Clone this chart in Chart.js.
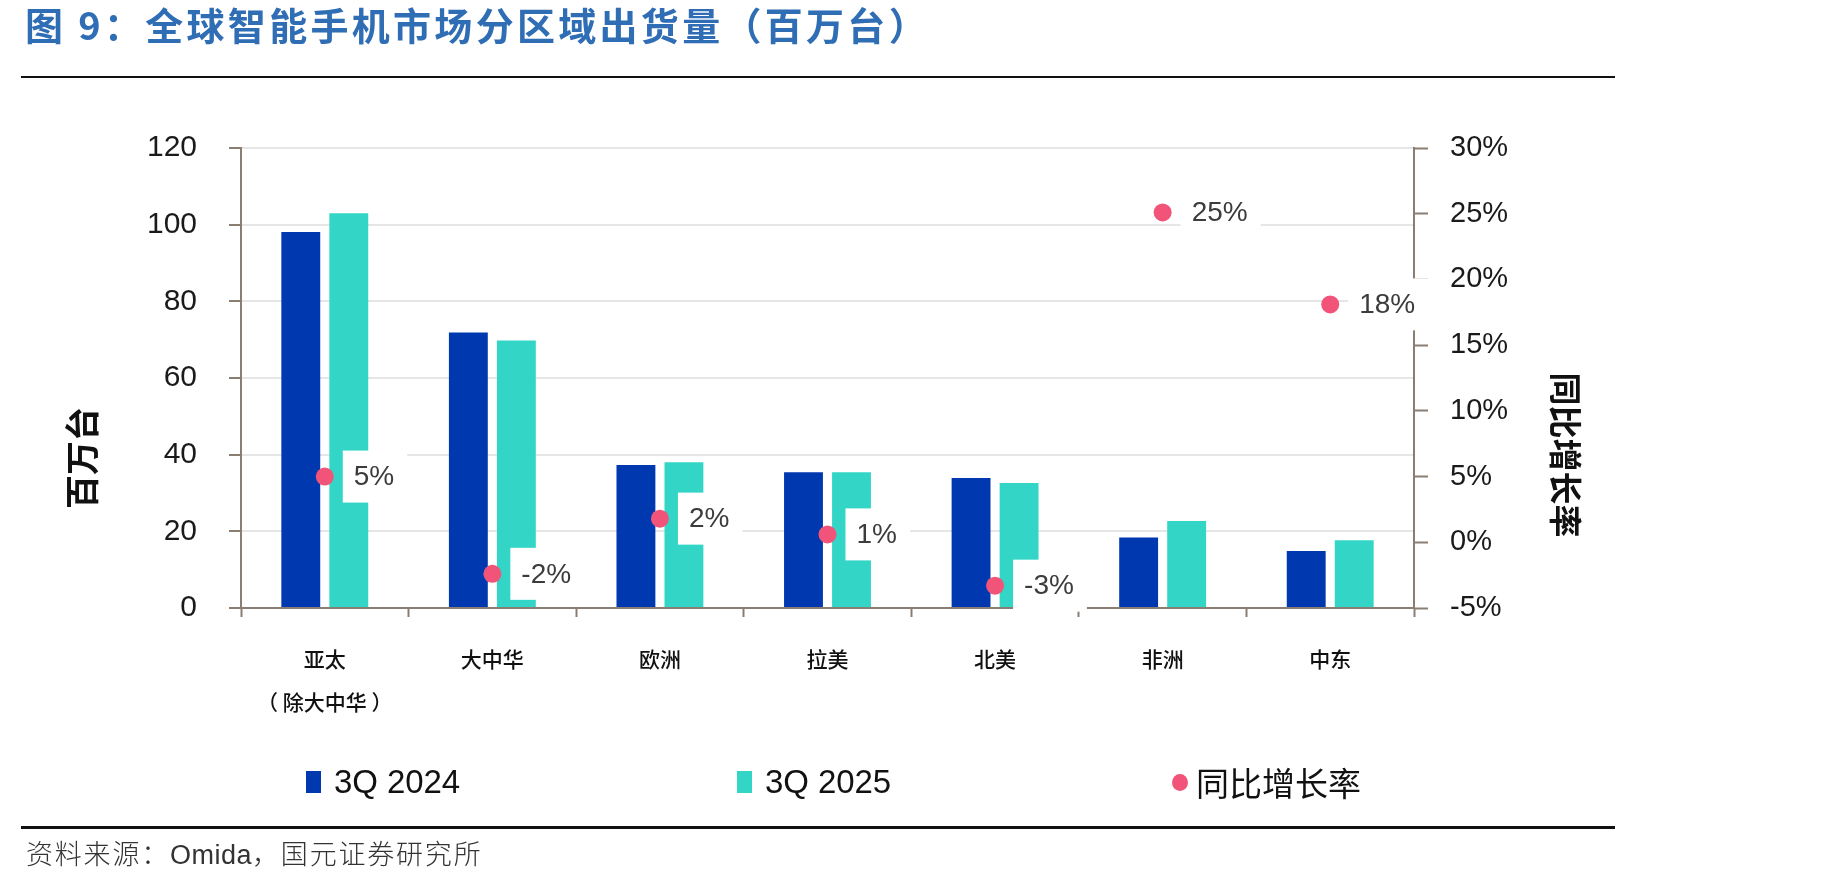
<!DOCTYPE html>
<html><head><meta charset="utf-8">
<script src="https://cdn.jsdelivr.net/npm/chart.js@4/dist/chart.umd.min.js"></script>
<style>
html,body{margin:0;padding:0;background:#fff;}
#wrap{position:relative;width:1830px;height:882px;overflow:hidden;background:#fff;}
#c{position:absolute;left:0;top:0;}
.title{position:absolute;left:25px;top:0px;font-family:"Noto Sans CJK SC";font-weight:700;font-size:38px;letter-spacing:3.3px;color:#2F6DB5;line-height:48px;white-space:nowrap;}
.rule{position:absolute;left:21px;width:1594px;background:#111;}
.src{position:absolute;left:26px;top:835px;font-family:"Noto Sans CJK SC";font-weight:300;font-size:27px;letter-spacing:1.8px;color:#333;line-height:36px;white-space:nowrap;}
.src .lat{font-family:"Liberation Sans";font-weight:400;letter-spacing:0.5px;}
.lg{position:absolute;top:764px;height:36px;display:flex;align-items:center;white-space:nowrap;color:#111;}
.lg .sw{width:15px;height:22px;margin-right:13px;}
.lg .dot{width:16px;height:17px;border-radius:50%;margin-right:8px;}
.lg .t{font-family:"Liberation Sans";font-size:33px;letter-spacing:-0.1px;}
.lg .tc{font-family:"Noto Sans CJK SC";font-size:33px;}
</style></head>
<body>
<div id="wrap">
  <canvas id="c" width="1830" height="882"></canvas>
  <div class="title">图 9：全球智能手机市场分区域出货量（百万台）</div>
  <div class="rule" style="top:76px;height:2px;"></div>
  <div id="legend"></div>
  <div class="rule" style="top:826px;height:3px;"></div>
  <div class="src">资料来源：<span class="lat">Omida</span>，国元证券研究所</div>
</div>
<script>
// ---- data ----
const categories = [['亚太', '（ 除大中华 ）'], '大中华', '欧洲', '拉美', '北美', '非洲', '中东'];
const seriesNames = ['3Q 2024', '3Q 2025', '同比增长率'];
const shipments2024 = [98.1, 71.9, 37.3, 35.4, 33.9, 18.4, 14.9];
const shipments2025 = [103.0, 69.8, 38.0, 35.4, 32.6, 22.7, 17.7];
const yoyGrowth = [5.0, -2.4, 1.8, 0.6, -3.3, 25.1, 18.1];
const leftTicks = {min: 0, max: 120, step: 20};
const rightTicks = {min: -5, max: 30, step: 5};

// ---- styles ----
const C_BLUE = '#0038B0', C_TEAL = '#33D6C6', C_PINK = '#F25479';
const C_AXIS = '#8A7D72', C_GRID = '#E6E6E6';

// legend (HTML)
const legendPos = [306, 737, 1172];
const legendKinds = ['sw', 'sw', 'dot'];
const legendColors = [C_BLUE, C_TEAL, C_PINK];
const lgEl = document.getElementById('legend');
seriesNames.forEach((n, i) => {
  const d = document.createElement('div');
  d.className = 'lg';
  d.style.left = legendPos[i] + 'px';
  const m = document.createElement('div');
  m.className = legendKinds[i];
  m.style.background = legendColors[i];
  const t = document.createElement('span');
  t.className = i === 2 ? 'tc' : 't';
  t.textContent = n;
  d.appendChild(m); d.appendChild(t);
  lgEl.appendChild(d);
});

const labelPlugin = {
  id: 'yoyLabels',
  afterDatasetsDraw(chart) {
    const ctx = chart.ctx;
    const meta = chart.getDatasetMeta(2);
    ctx.save();
    ctx.font = '28px "Liberation Sans"';
    ctx.textBaseline = 'middle';
    ctx.textAlign = 'left';
    meta.data.forEach((pt, i) => {
      const txt = Math.round(yoyGrowth[i]) + '%';
      const w = ctx.measureText(txt).width;
      const bx = pt.x + 18, by = pt.y - 26;
      ctx.fillStyle = '#ffffff';
      ctx.fillRect(bx, by, w + 24, 52);
      ctx.fillStyle = '#3c3c3c';
      ctx.fillText(txt, bx + 11, pt.y + 1);
    });
    ctx.restore();
  },
  afterDraw(chart) {
    const ctx = chart.ctx;
    const a = chart.chartArea;
    ctx.save();
    ctx.fillStyle = '#111';
    ctx.textAlign = 'center';
    ctx.textBaseline = 'middle';
    ctx.font = '700 34px "Noto Sans CJK SC"';
    ctx.translate(a.left - 159, a.bottom - 150);
    ctx.rotate(-Math.PI / 2);
    ctx.fillText('百万台', 0, 0);
    ctx.restore();
    ctx.save();
    ctx.fillStyle = '#111';
    ctx.textAlign = 'center';
    ctx.textBaseline = 'middle';
    ctx.font = '700 33px "Noto Sans CJK SC"';
    ctx.translate(a.right + 152, a.bottom - 153);
    ctx.rotate(Math.PI / 2);
    ctx.fillText('同比增长率', 0, 0);
    ctx.restore();
  }
};

new Chart(document.getElementById('c'), {
  type: 'bar',
  data: {
    labels: categories,
    datasets: [
      {label: seriesNames[0], data: shipments2024, backgroundColor: C_BLUE, yAxisID: 'y', order: 1,
       categoryPercentage: 0.573, barPercentage: 0.81},
      {label: seriesNames[1], data: shipments2025, backgroundColor: C_TEAL, yAxisID: 'y', order: 1,
       categoryPercentage: 0.573, barPercentage: 0.81},
      {label: seriesNames[2], type: 'line', data: yoyGrowth, yAxisID: 'y2', order: 0, showLine: false,
       pointRadius: 9, pointHoverRadius: 9, pointBackgroundColor: C_PINK, pointBorderWidth: 0, borderColor: C_PINK}
    ]
  },
  options: {
    responsive: false,
    animation: false,
    events: [],
    layout: {padding: {top: 148, left: 0, right: 0, bottom: 0}},
    plugins: {legend: {display: false}, tooltip: {enabled: false}},
    scales: {
      x: {
        offset: true,
        grid: {display: true, offset: true, drawOnChartArea: false, drawTicks: true, tickLength: 9, tickColor: C_AXIS, tickWidth: 2},
        border: {display: true, color: C_AXIS, width: 2},
        ticks: {padding: 20, color: '#111', font: {family: '"Noto Sans CJK SC"', size: 21, weight: 500, lineHeight: 2.05}, maxRotation: 0, autoSkip: false},
        afterFit(s) { s.height = 882 - 608; }
      },
      y: {
        position: 'left',
        min: leftTicks.min, max: leftTicks.max,
        ticks: {stepSize: leftTicks.step, padding: 32, color: '#1a1a1a', font: {family: '"Liberation Sans"', size: 30}},
        grid: {color: C_GRID, lineWidth: 2, drawTicks: true, tickLength: 12, tickColor: C_AXIS, tickWidth: 2},
        border: {display: true, color: C_AXIS, width: 2},
        afterFit(s) { s.width = 241; }
      },
      y2: {
        position: 'right',
        min: rightTicks.min, max: rightTicks.max,
        ticks: {stepSize: rightTicks.step, padding: 22, color: '#1a1a1a', font: {family: '"Liberation Sans"', size: 29},
                callback: v => v + '%'},
        grid: {drawOnChartArea: false, drawTicks: true, tickLength: 14, tickColor: C_AXIS, tickWidth: 2},
        border: {display: true, color: C_AXIS, width: 2},
        afterFit(s) { s.width = 1830 - 1414; }
      }
    }
  },
  plugins: [labelPlugin]
});
</script>
</body></html>
